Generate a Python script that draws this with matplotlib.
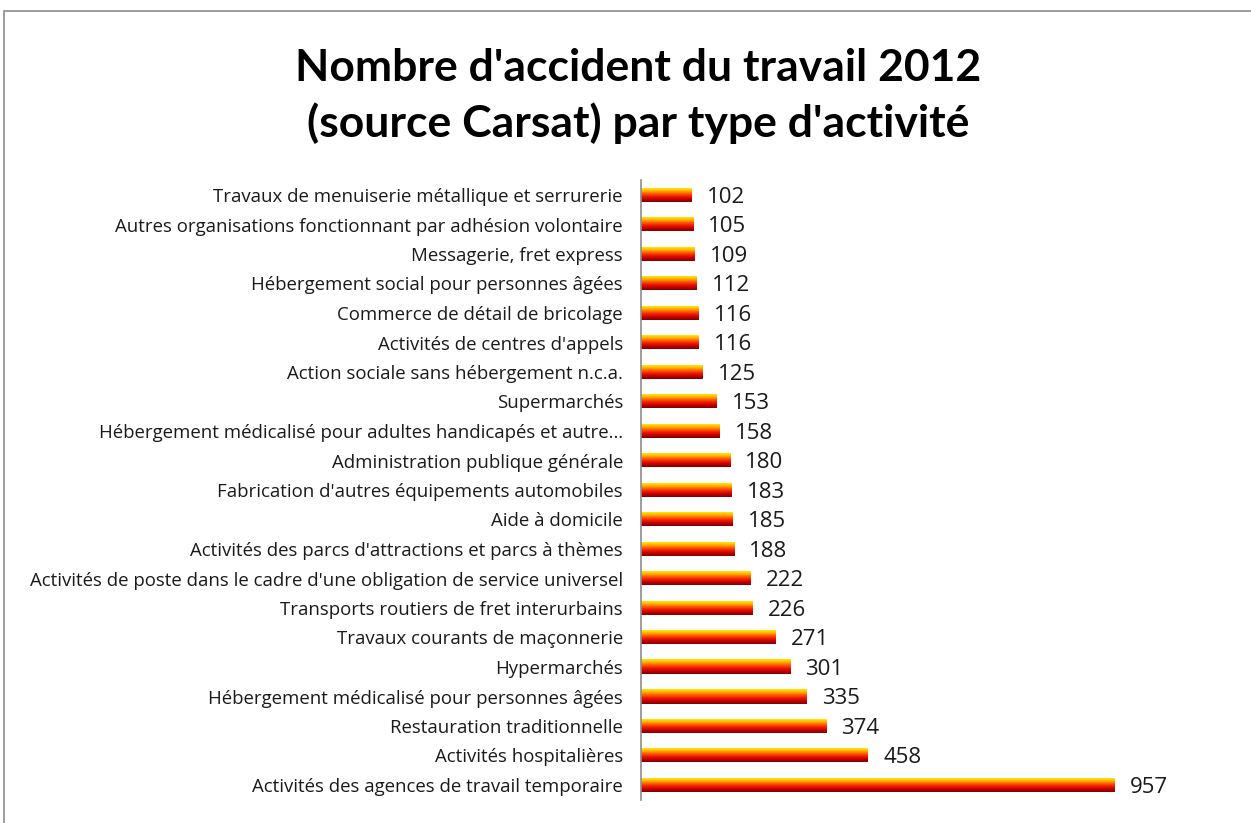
import matplotlib
matplotlib.use("Agg")
import matplotlib.pyplot as plt
import numpy as np
from matplotlib.colors import LinearSegmentedColormap
from matplotlib.patches import Rectangle

plt.rcParams['font.family'] = ['Open Sans', 'DejaVu Sans']

categories = [
    "Travaux de menuiserie métallique et serrurerie",
    "Autres organisations fonctionnant par adhésion volontaire",
    "Messagerie, fret express",
    "Hébergement social pour personnes âgées",
    "Commerce de détail de bricolage",
    "Activités de centres d'appels",
    "Action sociale sans hébergement n.c.a.",
    "Supermarchés",
    "Hébergement médicalisé pour adultes handicapés et autre…",
    "Administration publique générale",
    "Fabrication d'autres équipements automobiles",
    "Aide à domicile",
    "Activités des parcs d'attractions et parcs à thèmes",
    "Activités de poste dans le cadre d'une obligation de service universel",
    "Transports routiers de fret interurbains",
    "Travaux courants de maçonnerie",
    "Hypermarchés",
    "Hébergement médicalisé pour personnes âgées",
    "Restauration traditionnelle",
    "Activités hospitalières",
    "Activités des agences de travail temporaire",
]
values = [102, 105, 109, 112, 116, 116, 125, 153, 158, 180, 183, 185, 188,
          222, 226, 271, 301, 335, 374, 458, 957]

title = "Nombre d'accident du travail 2012\n(source Carsat) par type d'activité"

W, H = 1251, 823
fig = plt.figure(figsize=(W / 100, H / 100), dpi=100)

# outer chart frame
fig.patches.append(Rectangle((4 / W, -0.01), 1.0, 1 - 11 / H + 0.01,
                             transform=fig.transFigure, fill=False,
                             edgecolor="#8c8c8c", linewidth=1.2))

# plot area: first bar centre at y=195, last at y=785, pitch 29.5 px
pitch = 29.5
n = len(values)
top_px = 195 - pitch / 2
bot_px = 785 + pitch / 2
left_px, right_px = 641, 641 + 1000 * (1115 - 641) / 957
ax = fig.add_axes([left_px / W, 1 - bot_px / H,
                   (right_px - left_px) / W, (bot_px - top_px) / H])

cmap = LinearSegmentedColormap.from_list(
    "fire", ["#FFE800", "#FFB000", "#FF5a00", "#F01800", "#C00000", "#800000"])
grad = np.linspace(0, 1, 64).reshape(-1, 1)
bar_h = 14 / pitch

for i, v in enumerate(values):
    ax.imshow(grad, cmap=cmap, aspect="auto", interpolation="bilinear",
              extent=(0, v, i + bar_h / 2, i - bar_h / 2), zorder=2)
    ax.annotate(str(v), xy=(v, i), xytext=(11, -1.5), textcoords="offset points",
                va="center", ha="left", fontsize=16, color="#1a1a1a")

ax.set_xlim(0, 1000)
ax.set_ylim(n - 0.5, -0.5)
ax.set_yticks(range(n))
ax.set_yticklabels(categories, fontsize=13.4, color="#1a1a1a")
ax.tick_params(axis="y", length=0, pad=13)
ax.set_xticks([])
for s in ["top", "right", "bottom"]:
    ax.spines[s].set_visible(False)
ax.spines["left"].set_color("#8c8c8c")
ax.spines["left"].set_linewidth(1.2)
ax.patch.set_alpha(0)

fig.text(638 / W, 1 - 96 / H, title, ha="center", va="center",
         fontsize=32, fontweight="bold", color="black", linespacing=1.4,
         family=["Lato", "DejaVu Sans"])

fig.savefig("out.png", dpi=100)
